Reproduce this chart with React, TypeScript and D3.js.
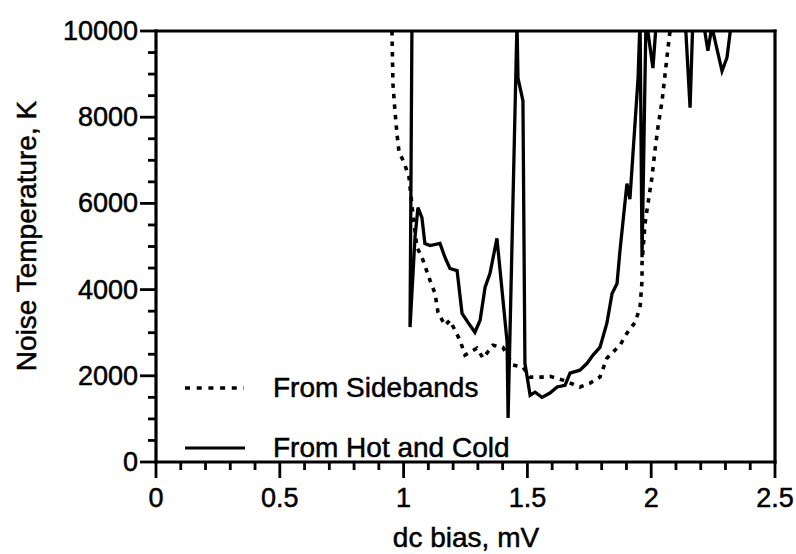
import React from "react";
import * as d3 from "d3";

// dc bias (mV) and noise temperature (K)
const sidebandBias = [0.953, 0.957, 0.965, 0.973, 0.981, 1.006, 1.022, 1.038, 1.054, 1.074, 1.107, 1.127, 1.139, 1.167, 1.187, 1.228, 1.248, 1.296, 1.321, 1.361, 1.401, 1.442, 1.482, 1.511, 1.559, 1.591, 1.644, 1.712, 1.753, 1.793, 1.821, 1.874, 1.902, 1.935, 1.955, 1.963, 1.963, 1.975, 1.987, 2.003, 2.015, 2.027, 2.044, 2.056, 2.068, 2.076];
const sidebandTemp = [10000, 8770, 8150, 7620, 7220, 6880, 6600, 5720, 4980, 4750, 4210, 3910, 3470, 3170, 3290, 2820, 2480, 2640, 2410, 2710, 2660, 2250, 2200, 1970, 1970, 1990, 1900, 1740, 1830, 1970, 2410, 2710, 2990, 3240, 3590, 4210, 4610, 5530, 6000, 6600, 7220, 7760, 8380, 9000, 9610, 10000];

const hotColdBias = [1.034, 1.026, 1.046, 1.058, 1.074, 1.086, 1.107, 1.147, 1.167, 1.187, 1.216, 1.236, 1.26, 1.288, 1.309, 1.329, 1.349, 1.377, 1.418, 1.422, 1.458, 1.462, 1.482, 1.49, 1.511, 1.531, 1.559, 1.591, 1.62, 1.652, 1.672, 1.712, 1.741, 1.765, 1.793, 1.821, 1.842, 1.862, 1.874, 1.902, 1.914, 1.947, 1.955, 1.963, 1.979, 2.007, 2.023, 2.136, 2.157, 2.169, 2.208, 2.229, 2.245, 2.286, 2.306, 2.326, 2.34];
const hotColdTemp = [10400, 3130, 5210, 5900, 5670, 5070, 5020, 5070, 4750, 4490, 4440, 3450, 3240, 3010, 3290, 4050, 4380, 5190, 2780, 1020, 10200, 8910, 8380, 2290, 1550, 1620, 1500, 1600, 1740, 1780, 2060, 2130, 2290, 2480, 2660, 3220, 3910, 4140, 4910, 6460, 6100, 8910, 10300, 4750, 10300, 9140, 10400, 10400, 8220, 10400, 10300, 9540, 10100, 9070, 9380, 10300, 10400];

const xTicks = [0, 0.5, 1, 1.5, 2, 2.5];
const xTickLabels = ["0", "0.5", "1", "1.5", "2", "2.5"];
const yTicks = [0, 2000, 4000, 6000, 8000, 10000];
const yTickLabels = ["0", "2000", "4000", "6000", "8000", "10000"];

const legendLabels = ["From Sidebands", "From Hot and Cold"];

const font = "'Liberation Sans', Arial, Helvetica, sans-serif";

export default function App() {
  const x = d3.scaleLinear().domain([0, 2.5]).range([156, 775]);
  const y = d3.scaleLinear().domain([0, 10000]).range([462, 31]);

  const line = d3
    .line<[number, number]>()
    .x((d) => x(d[0]))
    .y((d) => y(d[1]));

  const side: [number, number][] = sidebandBias.map((b, i) => [b, sidebandTemp[i]]);
  const hot: [number, number][] = hotColdBias.map((b, i) => [b, hotColdTemp[i]]);

  const xMinor = d3.range(0, 26).map((i) => i / 10).filter((v) => Math.round(v * 10) % 5 !== 0);
  const yMinor = d3.range(0, 21).map((i) => i * 500).filter((v) => v % 2000 !== 0);

  return (
    <svg
      width={796}
      height={554}
      style={{ position: "absolute", left: 0, top: 0, background: "#fff" }}
      fontFamily={font}
    >
      <defs>
        <clipPath id="plot">
          <rect x={x(0)} y={y(10000)} width={x(2.5) - x(0)} height={y(0) - y(10000)} />
        </clipPath>
      </defs>

      {/* curves */}
      <g clipPath="url(#plot)" fill="none" stroke="#000">
        <path d={line(side) || ""} strokeWidth={3.6} strokeDasharray="4.5 6" />
        <path d={line(hot) || ""} strokeWidth={3.3} strokeLinejoin="miter" />
      </g>

      {/* frame */}
      <g stroke="#000" strokeWidth={3.2} fill="none">
        <line x1={x(0)} x2={x(0)} y1={y(10000) - 1.5} y2={y(0) + 1.5} />
        <line x1={x(0) - 1.5} x2={x(2.5) + 1.5} y1={y(0)} y2={y(0)} />
        <line x1={x(0) - 1.5} x2={x(2.5) + 1.5} y1={y(10000)} y2={y(10000)} />
        <line x1={x(2.5)} x2={x(2.5)} y1={y(10000) - 1.5} y2={y(0) + 1.5} />
      </g>

      {/* ticks */}
      <g stroke="#000" strokeWidth={2.8}>
        {yTicks.map((t) => (
          <line key={"ym" + t} x1={x(0) - 16} x2={x(0)} y1={y(t)} y2={y(t)} />
        ))}
        {yMinor.map((t) => (
          <line key={"yn" + t} x1={x(0) - 8} x2={x(0)} y1={y(t)} y2={y(t)} />
        ))}
        {xTicks.map((t) => (
          <line key={"xm" + t} x1={x(t)} x2={x(t)} y1={y(0)} y2={y(0) + 16} />
        ))}
        {xMinor.map((t) => (
          <line key={"xn" + t} x1={x(t)} x2={x(t)} y1={y(0)} y2={y(0) + 8} />
        ))}
      </g>

      {/* tick labels */}
      <g fontSize={27} fill="#000" stroke="#000" strokeWidth={0.5}>
        {yTicks.map((t, i) => (
          <text key={"yl" + t} x={x(0) - 18} y={y(t) + 9} textAnchor="end">
            {yTickLabels[i]}
          </text>
        ))}
        {xTicks.map((t, i) => (
          <text key={"xl" + t} x={x(t)} y={507} textAnchor="middle">
            {xTickLabels[i]}
          </text>
        ))}
      </g>

      {/* axis titles */}
      <g fontSize={28} fill="#000" stroke="#000" strokeWidth={0.5}>
        <text x={466} y={547} textAnchor="middle">
          dc bias, mV
        </text>
        <text transform="translate(36,236) rotate(-90)" textAnchor="middle">
          Noise Temperature, K
        </text>
      </g>

      {/* legend */}
      <g stroke="#000" fill="none">
        <line x1={185} x2={244} y1={388} y2={388} strokeWidth={3.4} strokeDasharray="5 6.7" />
        <line x1={185} x2={245} y1={448} y2={448} strokeWidth={3.2} />
      </g>
      <g fontSize={28} fill="#000" stroke="#000" strokeWidth={0.5}>
        <text x={273} y={397}>{legendLabels[0]}</text>
        <text x={273} y={457}>{legendLabels[1]}</text>
      </g>
    </svg>
  );
}
